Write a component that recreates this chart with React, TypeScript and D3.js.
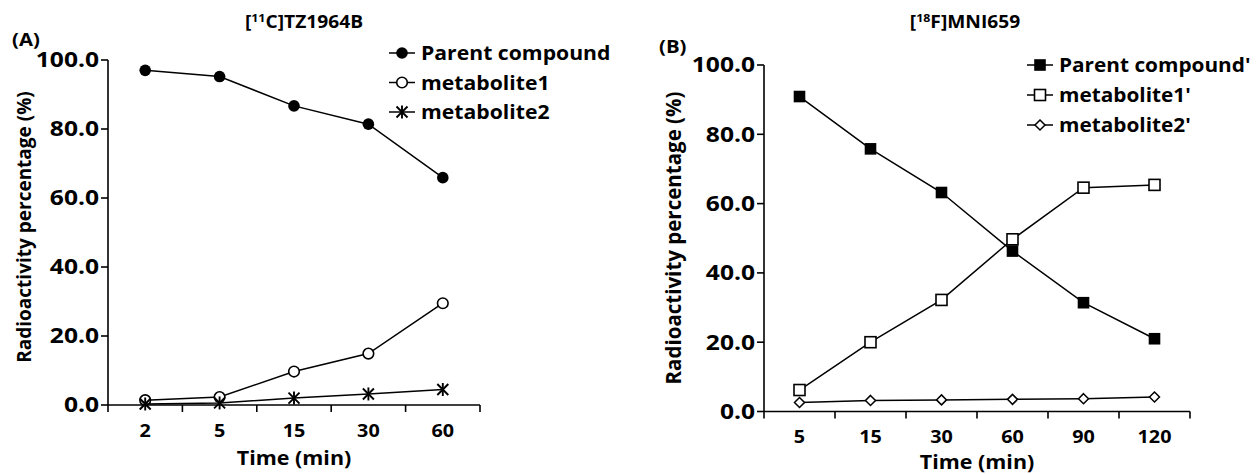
import React from "react";
import * as d3 from "d3";

const catsA = ["2", "5", "15", "30", "60"];
const parentA = [97.0, 95.2, 86.7, 81.4, 65.9];
const met1A = [1.4, 2.3, 9.7, 14.9, 29.5];
const met2A = [0.3, 0.6, 2.0, 3.2, 4.5];

const catsB = ["5", "15", "30", "60", "90", "120"];
const parentB = [90.9, 75.8, 63.2, 46.3, 31.4, 21.0];
const met1B = [6.2, 20.0, 32.2, 49.7, 64.6, 65.4];
const met2B = [2.6, 3.2, 3.35, 3.5, 3.7, 4.2];

const yTicks = [0, 20, 40, 60, 80, 100];
const legendA = ["Parent compound", "metabolite1", "metabolite2"];
const legendB = ["Parent compound'", "metabolite1'", "metabolite2'"];

const FONT = "'Open Sans', 'DejaVu Sans', sans-serif";

type MarkerKind = "filledCircle" | "openCircle" | "star" | "filledSquare" | "openSquare" | "diamond";

function Marker({ kind, x, y }: { kind: MarkerKind; x: number; y: number }) {
  const sw = 1.6;
  switch (kind) {
    case "filledCircle":
      return <circle cx={x} cy={y} r={5.8} fill="#000" />;
    case "openCircle":
      return <circle cx={x} cy={y} r={5.3} fill="#fff" stroke="#000" strokeWidth={sw} />;
    case "star": {
      const s = 5.5;
      return (
        <g stroke="#000" strokeWidth={1.9}>
          <line x1={x - s} y1={y - s} x2={x + s} y2={y + s} />
          <line x1={x - s} y1={y + s} x2={x + s} y2={y - s} />
          <line x1={x} y1={y - s - 1} x2={x} y2={y + s + 1} />
        </g>
      );
    }
    case "filledSquare":
      return <rect x={x - 5.8} y={y - 5.8} width={11.6} height={11.6} fill="#000" />;
    case "openSquare":
      return <rect x={x - 5.5} y={y - 5.5} width={11} height={11} fill="#fff" stroke="#000" strokeWidth={sw} />;
    case "diamond": {
      const s = 5;
      return (
        <path
          d={`M${x},${y - s}L${x + s},${y}L${x},${y + s}L${x - s},${y}Z`}
          fill="#fff"
          stroke="#000"
          strokeWidth={1.5}
        />
      );
    }
  }
}

function T(props: {
  x: number;
  y: number;
  size: number;
  sx?: number;
  anchor?: "start" | "middle" | "end";
  dy?: string;
  weight?: number | string;
  children: React.ReactNode;
}) {
  const { x, y, size, sx = 1.13, anchor = "start", dy, weight = "bold", children } = props;
  return (
    <text
      transform={`translate(${x},${y}) scale(${sx},1)`}
      fontSize={size}
      textAnchor={anchor}
      dy={dy}
      fontWeight={weight}
    >
      {children}
    </text>
  );
}

type Series = { name: string; values: number[]; marker: MarkerKind };

function Panel(props: {
  cats: string[];
  series: Series[];
  x0: number;
  x1: number;
  yTop: number;
  yBottom: number;
  label: string;
  labelX: number;
  labelY: number;
  titleX: number;
  titleY: number;
  titleSup: string;
  titleRest: string;
  yLabelX: number;
  yLabelY: number;
  yLabelSize: number;
  xLabelX: number;
  xLabelY: number;
  tickLabelY: number;
  legX: number;
  legY: number;
  legStep: number;
  legSx: number;
}) {
  const {
    cats, series, x0, x1, yTop, yBottom, label, labelX, labelY, titleX, titleY, titleSup, titleRest,
    yLabelX, yLabelY, yLabelSize, xLabelX, xLabelY, tickLabelY, legX, legY, legStep, legSx,
  } = props;
  const x = d3.scaleBand<string>().domain(cats).range([x0, x1]);
  const y = d3.scaleLinear().domain([0, 100]).range([yBottom, yTop]);
  const cx = (i: number) => (x(cats[i]) as number) + x.bandwidth() / 2;
  const line = d3
    .line<number>()
    .x((_, i) => cx(i))
    .y((d) => y(d));
  const boundaries = d3.range(cats.length + 1).map((i) => x0 + i * x.step());
  const tick = 7;
  return (
    <g fontFamily={FONT} fontWeight="bold" fill="#000">
      <T x={labelX} y={labelY} size={18}>{label}</T>
      <T x={titleX} y={titleY} size={17} anchor="middle">
        <tspan>[</tspan>
        <tspan fontSize={11} dy={-6}>{titleSup}</tspan>
        <tspan dy={6}>{titleRest}</tspan>
      </T>
      {/* y axis */}
      <line x1={x0} y1={yTop} x2={x0} y2={yBottom} stroke="#000" strokeWidth={1.6} />
      {yTicks.map((t) => (
        <g key={t}>
          <line x1={x0 - tick} x2={x0} y1={y(t)} y2={y(t)} stroke="#000" strokeWidth={1.6} />
          <T x={x0 - 9} y={y(t)} dy="0.36em" anchor="end" size={20.5} sx={1.2}>
            {t.toFixed(1)}
          </T>
        </g>
      ))}
      {/* x axis */}
      <line x1={x0} y1={yBottom} x2={x1} y2={yBottom} stroke="#000" strokeWidth={1.6} />
      {boundaries.map((b, i) => (
        <line key={i} x1={b} x2={b} y1={yBottom} y2={yBottom + tick} stroke="#000" strokeWidth={1.6} />
      ))}
      {cats.map((c, i) => (
        <T key={c} x={cx(i)} y={tickLabelY} anchor="middle" size={17.5}>
          {c}
        </T>
      ))}
      <T x={xLabelX} y={xLabelY} anchor="middle" size={19}>Time (min)</T>
      <text
        transform={`translate(${yLabelX},${yLabelY}) rotate(-90)`}
        textAnchor="middle"
        fontSize={yLabelSize}
      >
        Radioactivity percentage (%)
      </text>
      {series.map((s) => (
        <g key={s.name}>
          <path d={line(s.values) as string} fill="none" stroke="#000" strokeWidth={1.5} />
          {s.values.map((v, i) => (
            <Marker key={i} kind={s.marker} x={cx(i)} y={y(v)} />
          ))}
        </g>
      ))}
      {series.map((s, i) => {
        const ly = legY + i * legStep;
        return (
          <g key={"leg" + s.name}>
            <line x1={legX - 13} x2={legX + 13} y1={ly} y2={ly} stroke="#000" strokeWidth={1.5} />
            <Marker kind={s.marker} x={legX} y={ly} />
            <T x={legX + 19} y={ly} dy="0.36em" size={20} sx={legSx}>
              {s.name}
            </T>
          </g>
        );
      })}
    </g>
  );
}

export default function App() {
  const seriesA: Series[] = [
    { name: legendA[0], values: parentA, marker: "filledCircle" },
    { name: legendA[1], values: met1A, marker: "openCircle" },
    { name: legendA[2], values: met2A, marker: "star" },
  ];
  const seriesB: Series[] = [
    { name: legendB[0], values: parentB, marker: "filledSquare" },
    { name: legendB[1], values: met1B, marker: "openSquare" },
    { name: legendB[2], values: met2B, marker: "diamond" },
  ];
  return (
    <svg
      width={1258}
      height={474}
      style={{ position: "absolute", left: 0, top: 0, background: "#fff" }}
    >
      <rect width={1258} height={474} fill="#fff" />
      <Panel
        cats={catsA}
        series={seriesA}
        x0={108}
        x1={480}
        yTop={60}
        yBottom={405}
        label="(A)"
        labelX={12}
        labelY={46}
        titleX={304}
        titleY={28}
        titleSup="11"
        titleRest="C]TZ1964B"
        yLabelX={31}
        yLabelY={227}
        yLabelSize={19}
        xLabelX={294}
        xLabelY={465}
        tickLabelY={437}
        legX={402}
        legY={53}
        legStep={29.5}
        legSx={1.06}
      />
      <Panel
        cats={catsB}
        series={seriesB}
        x0={764}
        x1={1190}
        yTop={65}
        yBottom={411.5}
        label="(B)"
        labelX={659}
        labelY={53}
        titleX={965}
        titleY={28}
        titleSup="18"
        titleRest="F]MNI659"
        yLabelX={681}
        yLabelY={238}
        yLabelSize={20.5}
        xLabelX={977}
        xLabelY={469}
        tickLabelY={443}
        legX={1040}
        legY={65}
        legStep={30}
        legSx={1.04}
      />
    </svg>
  );
}
